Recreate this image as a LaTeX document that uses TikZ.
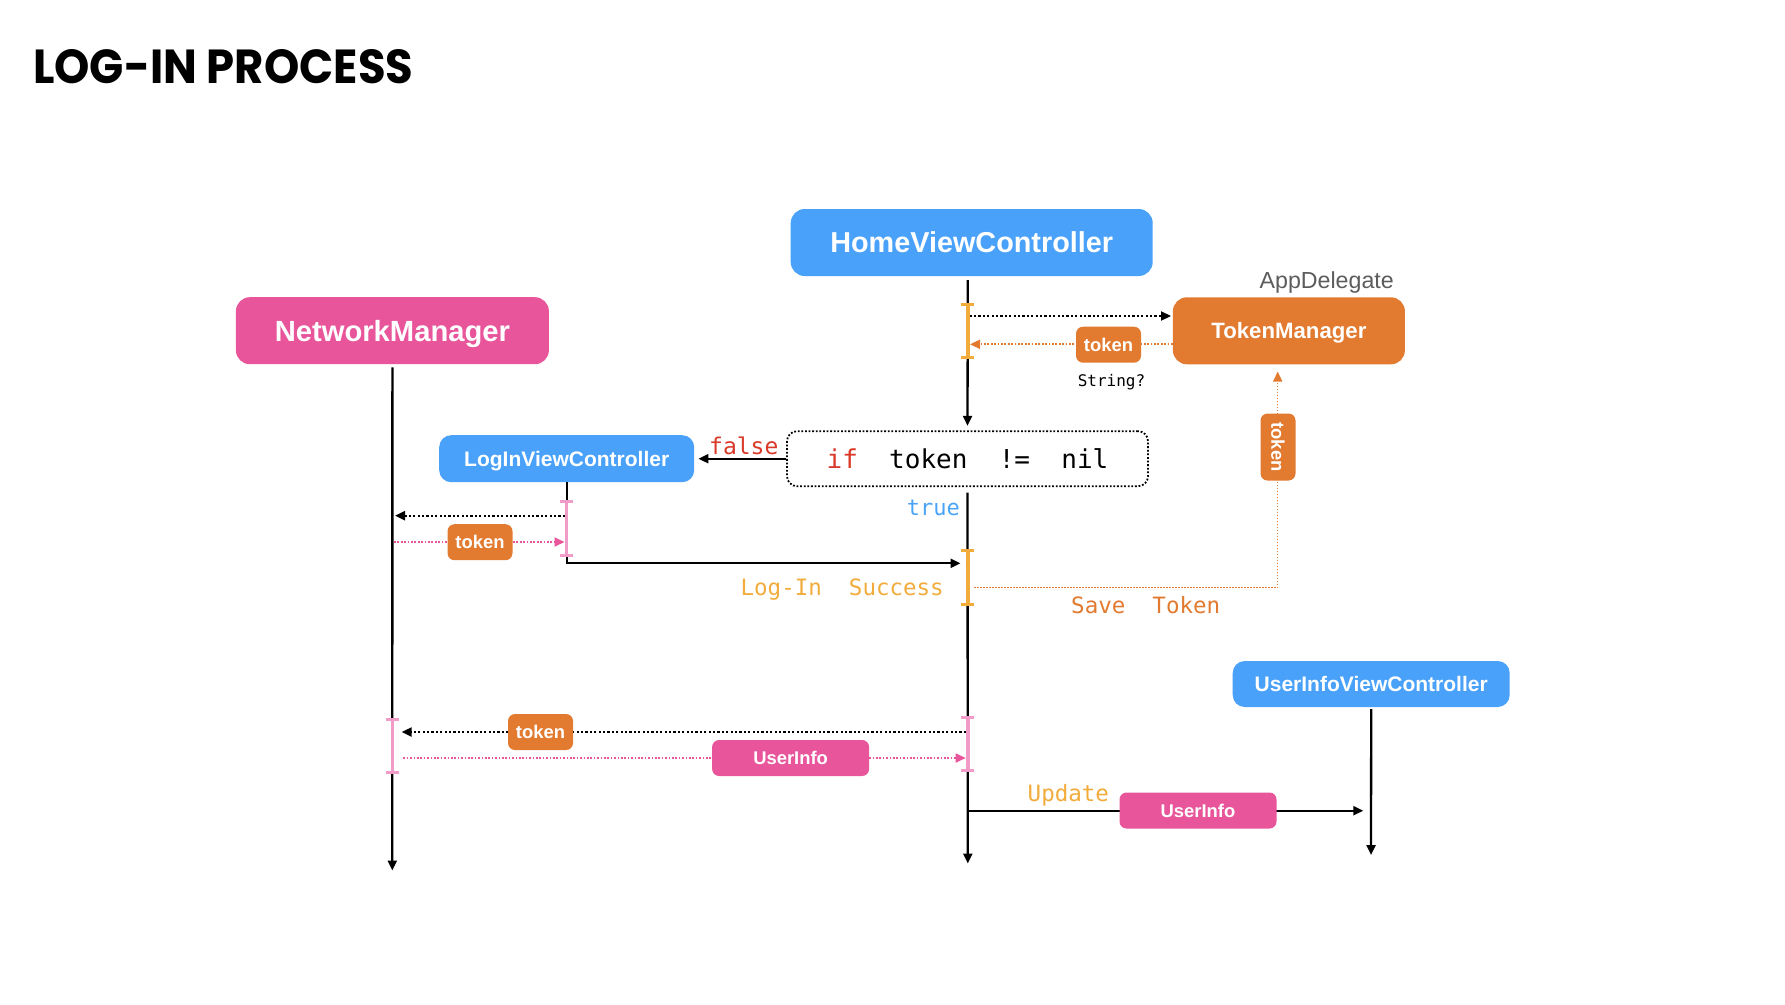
\documentclass[tikz,border=0pt]{standalone}
\usepackage{fontspec}
\setmainfont{Liberation Sans}
\setmonofont{DejaVu Sans Mono}
\newfontfamily\titlefont{Poppins}
\usetikzlibrary{arrows.meta}
\definecolor{cblue}{RGB}{73,161,249}
\definecolor{cpink}{RGB}{232,85,155}
\definecolor{corange}{RGB}{226,122,48}
\definecolor{cyellow}{RGB}{242,172,59}
\definecolor{clpink}{RGB}{240,155,200}
\definecolor{cred}{RGB}{218,58,42}
\definecolor{ctrue}{RGB}{75,163,247}
\definecolor{cgray}{RGB}{92,92,92}
\newcommand\fs[1]{\fontsize{#1}{#1}\selectfont}
\tikzset{
  actor/.style={rounded corners=14pt, text=white, inner sep=0pt, text depth=0pt, align=center},
  tag/.style={rounded corners=7pt, text=white, font=\bfseries\fs{18.4}, inner sep=0pt, text height=13.2pt, text depth=0pt, minimum height=36pt},
  mono/.style={inner sep=0pt, text depth=0pt},
  life/.style={draw=black, line width=2.3pt},
  tipA/.style={-{Triangle[length=10pt,width=9pt]}},
  blackdot/.style={draw=black, line width=2.2pt, dash pattern=on 2.2pt off 2.2pt, -{Triangle[length=10pt,width=9pt]}},
  colordot/.style={line width=1.7pt, dash pattern=on 1.7pt off 1.7pt, -{Triangle[length=10pt,width=9pt]}},
}
\newcommand\actbar[4]{%
  \draw[#1, line width=3.4pt] (#2,#3) -- (#2,#4);
  \draw[#1, line width=3pt] (#2-6.5,#3) -- (#2+6.5,#3) (#2-6.5,#4) -- (#2+6.5,#4);}
\begin{document}
\begin{tikzpicture}[x=1pt,y=-1pt]
\useasboundingbox[fill=white] (0,0) rectangle (1785,1004);

% title
\node[anchor=north west, inner sep=0pt] (title) at (33,49)
  {\resizebox{380pt}{34pt}{\titlefont\bfseries LOG-IN PROCESS}};

% actors
\node[actor, fill=cblue, font=\bfseries\fs{28.8}, text height=20.6pt, minimum width=362pt, minimum height=67pt] (home) at (971.7,242.5) {HomeViewController};
\node[actor, fill=cpink, font=\bfseries\fs{29.2}, text height=20.9pt, minimum width=313pt, minimum height=67pt] (nm) at (392.4,330.7) {NetworkManager};
\node[actor, fill=corange, font=\bfseries\fs{22.2}, text height=15.9pt, minimum width=232pt, minimum height=67pt] (tm) at (1288.9,330.8) {TokenManager};
\node[actor, rounded corners=12pt, fill=cblue, font=\bfseries\fs{21}, text height=15pt, minimum width=255pt, minimum height=47pt] (login) at (566.7,458.7) {LogInViewController};
\node[actor, rounded corners=12pt, fill=cblue, font=\bfseries\fs{21}, text height=15pt, minimum width=277pt, minimum height=46pt] (uivc) at (1371.2,684) {UserInfoViewController};
\node[anchor=east, inner sep=0pt, text height=16.6pt, text depth=0pt, text=cgray, font=\fs{23.2}] (appdel) at (1394,280) {AppDelegate};

% condition box
\node[draw=black, line width=1.8pt, dash pattern=on 1.8pt off 1.8pt, rounded corners=10pt, minimum width=361pt, minimum height=55pt, inner sep=0pt, text depth=0pt, text height=19pt, font=\ttfamily\fs{26}] (ifb) at (967.5,458.7) {{\color{cred}if}~~token~~!=~~nil};

% lifeline coordinates
\coordinate (hTop) at (967.8,280);
\coordinate (hBot) at (967.8,863.5);
\coordinate (nBot) at (392.3,870.5);
\coordinate (uBot) at (1371,855);
\coordinate (lCorner) at (566.7,563.3);
\coordinate (hIn) at (960.5,563.3);

% lifelines
\draw[life, tipA, shorten >=4.5pt] (hTop) -- (ifb.north);
\draw[life, tipA, shorten <=5.5pt] (ifb.south) -- (hBot);
\draw[life, tipA, shorten <=3pt] (nm.south) -- (nBot);
\draw[life, tipA, shorten <=2pt] (uivc.south) -- (uBot);
\draw[life, tipA] (login.south) -- (lCorner) -- (hIn);
\draw[life, tipA, shorten >=4pt] (ifb.west) -- (login.east);

% activation bars
\actbar{cyellow}{967.8}{304}{357.3}
\actbar{clpink}{566.7}{501}{555.7}
\actbar{cyellow}{967.8}{550}{604}
\actbar{clpink}{392.3}{719.3}{772.7}
\actbar{clpink}{967.8}{717.3}{770.7}

% messages
\coordinate (m1a) at (969.5,316);
\coordinate (m1b) at (1171,316);
\draw[blackdot] (m1a) -- (m1b);
\coordinate (m2a) at (1172.7,344.3);
\coordinate (m2b) at (970,344.3);
\draw[colordot, draw=corange] (m2a) -- (m2b);
\node[tag, fill=corange, minimum width=65pt] (tok1) at (1108.5,344.7) {token};
\node[mono, text height=11.7pt, font=\ttfamily\fs{16}] (str) at (1111.5,381) {String?};

\coordinate (m3a) at (565,515.7);
\coordinate (m3b) at (395,515.7);
\draw[blackdot] (m3a) -- (m3b);
\coordinate (m4a) at (394,542);
\coordinate (m4b) at (564.5,542);
\draw[colordot, draw=cpink] (m4a) -- (m4b);
\node[tag, fill=corange, minimum width=65pt] (tok2) at (480,542.2) {token};

\coordinate (m5a) at (974,587.4);
\coordinate (m5c) at (1277.7,587.4);
\draw[colordot, line width=1.5pt, dash pattern=on 1.5pt off 1.5pt, draw=corange, shorten >=7pt] (m5a) -- (m5c) -- (m5c |- tm.south);
\node[tag, fill=corange, minimum width=67pt, minimum height=35pt, rotate=-90] (tok3) at (1278,447) {token};

\coordinate (m6a) at (966,732);
\coordinate (m6b) at (401.7,732);
\draw[blackdot] (m6a) -- (m6b);
\node[tag, fill=corange, minimum width=65pt] (tok4) at (540.5,732) {token};
\coordinate (m7a) at (403.3,758);
\coordinate (m7b) at (965.7,758);
\draw[colordot, draw=cpink] (m7a) -- (m7b);
\node[tag, fill=cpink, minimum width=157pt] (ui1) at (790.6,758) {UserInfo};

\coordinate (m8a) at (967.8,810.7);
\coordinate (m8b) at (1363.3,810.7);
\draw[life, tipA] (m8a) -- (m8b);
\node[tag, fill=cpink, minimum width=157pt] (ui2) at (1198,810.5) {UserInfo};

% condition & step labels
\node[mono, anchor=base west, text=cred, font=\ttfamily\fs{23}] (fl) at (709,454) {false};
\node[mono, anchor=east, text height=16pt, text=ctrue, font=\ttfamily\fs{22}] (tr) at (960,507) {true};
\node[mono, anchor=east, text height=16.4pt, text=cyellow, font=\ttfamily\fs{22.5}] (ls) at (944,587) {Log-In~~Success};
\node[mono, anchor=west, text height=16.4pt, text=corange, font=\ttfamily\fs{22.5}] (st) at (1071,605.6) {Save~~Token};
\node[mono, anchor=west, text height=16.4pt, text=cyellow, font=\ttfamily\fs{22.5}] (up) at (1027.5,793.4) {Update};
\end{tikzpicture}
\end{document}
